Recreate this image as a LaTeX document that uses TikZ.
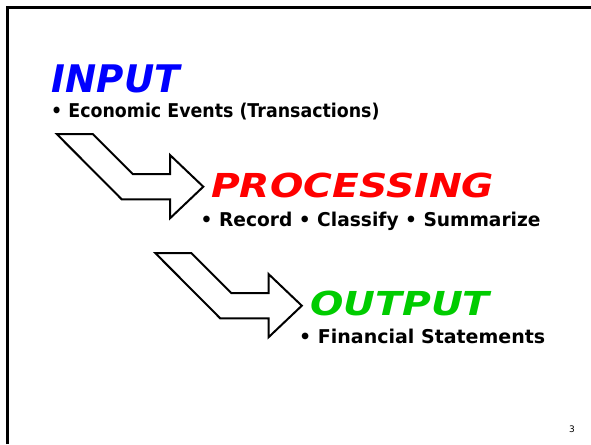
\documentclass[tikz,border=0pt]{standalone}
\usepackage{fontspec}
\setmainfont{DejaVu Sans}
\definecolor{inblue}{RGB}{0,0,255}
\definecolor{procred}{RGB}{255,0,0}
\definecolor{outgreen}{RGB}{0,204,0}
\tikzset{
  heading/.style={anchor=base west, inner sep=0pt, font=\fontsize{#1}{#1}\selectfont\bfseries\itshape},
  bullets/.style={anchor=base west, inner sep=0pt, font=\fontsize{19}{19}\selectfont\bfseries},
  blockarrow/.style={draw=black, line width=2pt, fill=white, line join=miter},
  frameline/.style={line width=2.6pt, black}
}
\begin{document}
\begin{tikzpicture}[x=1pt, y=-1pt]
  \useasboundingbox (0,0) rectangle (591,444);
  % slide frame (top and left edges)
  \draw[frameline] (7.5,444) -- (7.5,7.5) -- (591,7.5);

  % bent block arrow, drawn twice
  \foreach \name/\dx/\dy in {arrowA/0/0, arrowB/98.5/119} {
    \begin{scope}[shift={(\dx,\dy)}]
      \draw[blockarrow] (56.7,134) -- (92.7,134) -- (132.7,174) -- (170,174)
        -- (170,155) -- (203.3,186.7) -- (170,218.3) -- (170,199.3)
        -- (121.7,199.3) -- cycle;
    \end{scope}
  }

  % INPUT
  \node[heading=38, text=inblue] (intitle) at (51.5,92.7) {\scalebox{0.98}[1]{INPUT}};
  \node[bullets] (initems) at (51,117.5) {\scalebox{0.916}[1]{\textbullet\ Economic Events (Transactions)}};

  % PROCESSING
  \node[heading=33, text=procred] (proctitle) at (211,197.3) {\scalebox{1.19}[1]{PROCESSING}};
  \node[bullets] (procitems) at (200.5,226) {\scalebox{0.98}[1]{\textbullet\ Record \textbullet\ Classify \textbullet\ Summarize}};

  % OUTPUT
  \node[heading=33, text=outgreen] (outtitle) at (310,315.7) {\scalebox{1.19}[1]{OUTPUT}};
  \node[bullets] (outitems) at (299,343.3) {\textbullet\ Financial Statements};

  % slide number
  \node[anchor=base east, inner sep=0pt, font=\fontsize{9}{9}\selectfont] (pagenum) at (575,432) {3};
\end{tikzpicture}
\end{document}
